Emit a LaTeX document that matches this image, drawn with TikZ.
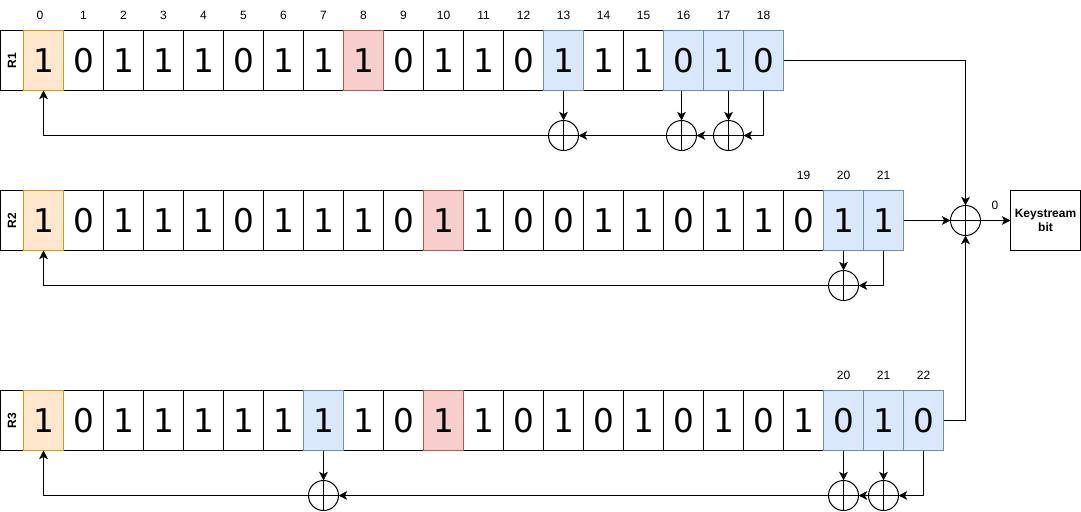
\documentclass[tikz,border=0pt]{standalone}
\usepackage{fontspec}
\usepackage{amsmath}
\setmainfont{Liberation Sans}
\newfontfamily\bitfont{DejaVu Sans}
\usetikzlibrary{arrows.meta}

\definecolor{initfill}{RGB}{255,230,204}
\definecolor{initline}{RGB}{215,155,0}
\definecolor{tapfill}{RGB}{218,232,252}
\definecolor{tapline}{RGB}{108,142,191}
\definecolor{clockfill}{RGB}{248,206,204}
\definecolor{clockline}{RGB}{184,84,80}

\tikzset{
  bitcell/.style={draw,line width=0.75pt,minimum width=30pt,minimum height=45pt,inner sep=0pt,outer sep=0pt,font=\bitfont\fontsize{24.5}{28}\selectfont},
  initcell/.style={bitcell,draw=initline,fill=initfill},
  tapcell/.style={bitcell,draw=tapline,fill=tapfill},
  clockcell/.style={bitcell,draw=clockline,fill=clockfill},
  regbox/.style={draw,line width=0.75pt,minimum width=17.25pt,minimum height=45pt,inner sep=0pt,outer sep=0pt,font=\bfseries\fontsize{9}{11}\selectfont},
  idx/.style={inner sep=0pt,font=\fontsize{9}{11}\selectfont},
  xorgate/.style={circle,draw,line width=0.75pt,minimum size=22.5pt,inner sep=0pt,outer sep=0pt,path picture={
    \draw [line width=0.75pt] (path picture bounding box.north) -- (path picture bounding box.south)
      (path picture bounding box.west) -- (path picture bounding box.east);}},
  wire/.style={line width=0.75pt,-{Stealth[length=6.5pt,width=6.5pt,inset=1.7pt]}}
}

\begin{document}
\begin{tikzpicture}[x=0.75pt,y=0.75pt,yscale=-1,xscale=1]
\useasboundingbox (0,0) rectangle (1081,511);

% Register R1
\node [regbox] (r1) at (12,60.5) {\rotatebox{90}{R1}};
\node [bitcell] (a1) at (83.5,60.5) {0};
\node [bitcell] (a2) at (123.5,60.5) {1};
\node [bitcell] (a3) at (163.5,60.5) {1};
\node [bitcell] (a4) at (203.5,60.5) {1};
\node [bitcell] (a5) at (243.5,60.5) {0};
\node [bitcell] (a6) at (283.5,60.5) {1};
\node [bitcell] (a7) at (323.5,60.5) {1};
\node [bitcell] (a9) at (403.5,60.5) {0};
\node [bitcell] (a10) at (443.5,60.5) {1};
\node [bitcell] (a11) at (483.5,60.5) {1};
\node [bitcell] (a12) at (523.5,60.5) {0};
\node [bitcell] (a14) at (603.5,60.5) {1};
\node [bitcell] (a15) at (643.5,60.5) {1};
\node [initcell] (a0) at (43.5,60.5) {1};
\node [clockcell] (a8) at (363.5,60.5) {1};
\node [tapcell] (a13) at (563.5,60.5) {1};
\node [tapcell] (a16) at (683.5,60.5) {0};
\node [tapcell] (a17) at (723.5,60.5) {1};
\node [tapcell] (a18) at (763.5,60.5) {0};

% Register R2
\node [regbox] (r2) at (12,220.5) {\rotatebox{90}{R2}};
\node [bitcell] (b1) at (83.5,220.5) {0};
\node [bitcell] (b2) at (123.5,220.5) {1};
\node [bitcell] (b3) at (163.5,220.5) {1};
\node [bitcell] (b4) at (203.5,220.5) {1};
\node [bitcell] (b5) at (243.5,220.5) {0};
\node [bitcell] (b6) at (283.5,220.5) {1};
\node [bitcell] (b7) at (323.5,220.5) {1};
\node [bitcell] (b8) at (363.5,220.5) {1};
\node [bitcell] (b9) at (403.5,220.5) {0};
\node [bitcell] (b11) at (483.5,220.5) {1};
\node [bitcell] (b12) at (523.5,220.5) {0};
\node [bitcell] (b13) at (563.5,220.5) {0};
\node [bitcell] (b14) at (603.5,220.5) {1};
\node [bitcell] (b15) at (643.5,220.5) {1};
\node [bitcell] (b16) at (683.5,220.5) {0};
\node [bitcell] (b17) at (723.5,220.5) {1};
\node [bitcell] (b18) at (763.5,220.5) {1};
\node [bitcell] (b19) at (803.5,220.5) {0};
\node [initcell] (b0) at (43.5,220.5) {1};
\node [clockcell] (b10) at (443.5,220.5) {1};
\node [tapcell] (b20) at (843.5,220.5) {1};
\node [tapcell] (b21) at (883.5,220.5) {1};

% Register R3
\node [regbox] (r3) at (12,420.5) {\rotatebox{90}{R3}};
\node [bitcell] (c1) at (83.5,420.5) {0};
\node [bitcell] (c2) at (123.5,420.5) {1};
\node [bitcell] (c3) at (163.5,420.5) {1};
\node [bitcell] (c4) at (203.5,420.5) {1};
\node [bitcell] (c5) at (243.5,420.5) {1};
\node [bitcell] (c6) at (283.5,420.5) {1};
\node [bitcell] (c8) at (363.5,420.5) {1};
\node [bitcell] (c9) at (403.5,420.5) {0};
\node [bitcell] (c11) at (483.5,420.5) {1};
\node [bitcell] (c12) at (523.5,420.5) {0};
\node [bitcell] (c13) at (563.5,420.5) {1};
\node [bitcell] (c14) at (603.5,420.5) {0};
\node [bitcell] (c15) at (643.5,420.5) {1};
\node [bitcell] (c16) at (683.5,420.5) {0};
\node [bitcell] (c17) at (723.5,420.5) {1};
\node [bitcell] (c18) at (763.5,420.5) {0};
\node [bitcell] (c19) at (803.5,420.5) {1};
\node [initcell] (c0) at (43.5,420.5) {1};
\node [tapcell] (c7) at (323.5,420.5) {1};
\node [clockcell] (c10) at (443.5,420.5) {1};
\node [tapcell] (c20) at (843.5,420.5) {0};
\node [tapcell] (c21) at (883.5,420.5) {1};
\node [tapcell] (c22) at (923.5,420.5) {0};

% Index labels
\node [idx] (ia0) at (40,15) {0};
\node [idx] (ia1) at (83.5,15) {1};
\node [idx] (ia2) at (123.5,15) {2};
\node [idx] (ia3) at (163.5,15) {3};
\node [idx] (ia4) at (203.5,15) {4};
\node [idx] (ia5) at (243.5,15) {5};
\node [idx] (ia6) at (283.5,15) {6};
\node [idx] (ia7) at (323.5,15) {7};
\node [idx] (ia8) at (363.5,15) {8};
\node [idx] (ia9) at (403.5,15) {9};
\node [idx] (ia10) at (443.5,15) {10};
\node [idx] (ia11) at (483.5,15) {11};
\node [idx] (ia12) at (523.5,15) {12};
\node [idx] (ia13) at (563.5,15) {13};
\node [idx] (ia14) at (603.5,15) {14};
\node [idx] (ia15) at (643.5,15) {15};
\node [idx] (ia16) at (683.5,15) {16};
\node [idx] (ia17) at (723.5,15) {17};
\node [idx] (ia18) at (763.5,15) {18};
\node [idx] (ib19) at (803.5,175) {19};
\node [idx] (ib20) at (843.5,175) {20};
\node [idx] (ib21) at (883.5,175) {21};
\node [idx] (ic20) at (843.5,375) {20};
\node [idx] (ic21) at (883.5,375) {21};
\node [idx] (ic22) at (923.5,375) {22};

% XOR gates
\node [xorgate] (xa13) at (563.5,135.5) {};
\node [xorgate] (xa16) at (681.5,135.5) {};
\node [xorgate] (xa17) at (728.5,135.5) {};
\node [xorgate] (xb20) at (843.5,285.5) {};
\node [xorgate] (xc7) at (323.5,495.5) {};
\node [xorgate] (xc20) at (843.5,495.5) {};
\node [xorgate] (xc21) at (883.5,495.5) {};
\node [xorgate] (xmain) at (965.5,220.5) {};

% Output
\node [regbox,minimum width=52.5pt,align=center] (keybit) at (1045.5,220.5) {Keystream\\bit};
\node [idx] (iout) at (995,205) {0};

% Feedback R1
\draw [wire] (a13.south) -- (xa13.north);
\draw [wire] (xa16 |- a16.south) -- (xa16.north);
\draw [wire] (xa17 |- a17.south) -- (xa17.north);
\draw [wire] (a18.south) |- (xa17.east);
\draw [wire] (xa17.west) -- (xa16.east);
\draw [wire] (xa16.west) -- (xa13.east);
\draw [wire] (xa13.west) -| (a0.south);

% Feedback R2
\draw [wire] (b20.south) -- (xb20.north);
\draw [wire] (b21.south) |- (xb20.east);
\draw [wire] (xb20.west) -| (b0.south);

% Feedback R3
\draw [wire] (c7.south) -- (xc7.north);
\draw [wire] (c20.south) -- (xc20.north);
\draw [wire] (c21.south) -- (xc21.north);
\draw [wire] (c22.south) |- (xc21.east);
\draw [wire] (xc21.west) -- (xc20.east);
\draw [wire] (xc20.west) -- (xc7.east);
\draw [wire] (xc7.west) -| (c0.south);

% Keystream
\draw [wire] (a18.east) -| (xmain.north);
\draw [wire] (b21.east) -- (xmain.west);
\draw [wire] (c22.east) -| (xmain.south);
\draw [wire] (xmain.east) -- (keybit.west);
\end{tikzpicture}
\end{document}
